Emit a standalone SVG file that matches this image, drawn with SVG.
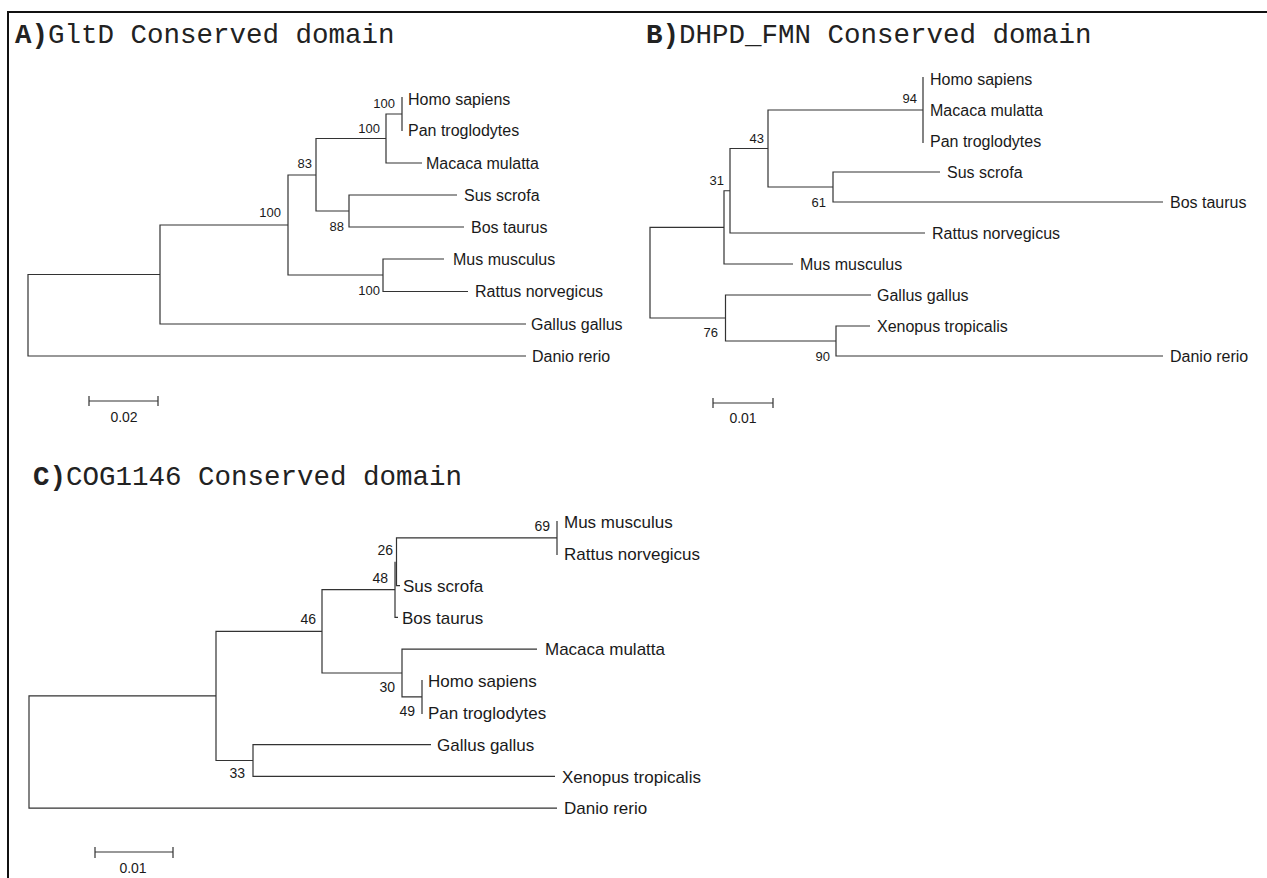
<svg xmlns="http://www.w3.org/2000/svg" width="1267" height="878" viewBox="0 0 1267 878">
<style>
.t{font-family:"Liberation Mono","Courier New",monospace;font-size:27.5px;fill:#222}
.b{font-weight:bold}
.br{fill:none;stroke:#333;stroke-width:1.2}
.fr{fill:none;stroke:#111;stroke-width:2}
.ln{font-family:"Liberation Sans",Arial,sans-serif;font-size:16px;fill:#1a1a1a}
.bs{font-family:"Liberation Sans",Arial,sans-serif;font-size:13px;fill:#1a1a1a;text-anchor:end}
.lc{font-family:"Liberation Sans",Arial,sans-serif;font-size:17px;fill:#1a1a1a}
.bc{font-family:"Liberation Sans",Arial,sans-serif;font-size:14px;fill:#1a1a1a;text-anchor:end}
.sc{font-family:"Liberation Sans",Arial,sans-serif;font-size:14px;fill:#1a1a1a;text-anchor:middle}
</style>
<rect width="1267" height="878" fill="#fff"/>
<path class="fr" d="M8 878 V12 H1267"/>

<g id="titles">
<text class="t" x="15" y="43"><tspan class="b">A)</tspan>GltD Conserved domain</text>
<text class="t" x="646" y="43"><tspan class="b">B)</tspan>DHPD_FMN Conserved domain</text>
<text class="t" x="33" y="485"><tspan class="b">C)</tspan>COG1146 Conserved domain</text>
</g>

<g id="connectors">
<path class="br" d="M402 97 V131 M402 114 H386 V163 H422 M386 138.5 H316 V211 H349 M457 195 H349 V227 H464 M316 175 H288 V275 H383 M444 259 H383 V291.5 H468 M288 225 H160 V324 H526 M160 274.5 H28 V356 H526"/>
<path class="br" d="M89 401 H158 M89 396 V406 M158 396 V406"/>
<path class="br" d="M923 77 V143 M923 110 H768 V187 H833 M940 172 H833 V202 H1163 M768 148.5 H730 V233 H925 M730 190.75 H724 V264 H793 M870 326 H836 V356 H1163 M871 295 H725.5 V341 H836 M724 227.4 H650 V318 H725.5"/>
<path class="br" d="M713 403 H773 M713 398 V408 M773 398 V408"/>
<path class="br" d="M557 521 V555 M557 537.9 H396.5 V585.6 H400 M395 561.75 V617.4 H398 M395 589.6 H322 V673 H402 M422 680 V714 M537 649.2 H402 V696.9 H422 M322 631.3 H216 V760.5 H253 M431 744.6 H253 V776.4 H555 M216 695.9 H29 V808.2 H557"/>
<path class="br" d="M95 852 H173 M95 847 V858 M173 847 V858"/>
</g>

<g id="treeA">
<g id="A-homo"><text class="ln" x="408" y="104.5">Homo sapiens</text></g>
<g id="A-pan"><text class="ln" x="408" y="136">Pan troglodytes</text></g>
<g id="A-macaca"><text class="ln" x="426" y="168.5">Macaca mulatta</text></g>
<g id="A-sus"><text class="ln" x="464" y="200.5">Sus scrofa</text></g>
<g id="A-bos"><text class="ln" x="471" y="232.5">Bos taurus</text></g>
<g id="A-mus"><text class="ln" x="453" y="264.5">Mus musculus</text></g>
<g id="A-rattus"><text class="ln" x="475" y="297">Rattus norvegicus</text></g>
<g id="A-gallus"><text class="ln" x="531" y="329.5">Gallus gallus</text></g>
<g id="A-danio"><text class="ln" x="532" y="361.5">Danio rerio</text></g>
<g id="A-n1"><text class="bs" x="395" y="108">100</text></g>
<g id="A-n2"><text class="bs" x="380" y="133">100</text></g>
<g id="A-n3"><text class="bs" x="312" y="168">83</text></g>
<g id="A-n4"><text class="bs" x="281" y="217">100</text></g>
<g id="A-n5"><text class="bs" x="344" y="231">88</text></g>
<g id="A-n6"><text class="bs" x="380" y="295">100</text></g>
<g id="A-scale"><text class="sc" x="124" y="422">0.02</text></g>
</g>

<g id="treeB">
<g id="B-homo"><text class="ln" x="930" y="84.5">Homo sapiens</text></g>
<g id="B-macaca"><text class="ln" x="930" y="115.5">Macaca mulatta</text></g>
<g id="B-pan"><text class="ln" x="930" y="146.5">Pan troglodytes</text></g>
<g id="B-sus"><text class="ln" x="947" y="177.5">Sus scrofa</text></g>
<g id="B-bos"><text class="ln" x="1170" y="207.5">Bos taurus</text></g>
<g id="B-rattus"><text class="ln" x="932" y="238.5">Rattus norvegicus</text></g>
<g id="B-mus"><text class="ln" x="800" y="269.5">Mus musculus</text></g>
<g id="B-gallus"><text class="ln" x="877" y="300.5">Gallus gallus</text></g>
<g id="B-xenopus"><text class="ln" x="877" y="331.5">Xenopus tropicalis</text></g>
<g id="B-danio"><text class="ln" x="1170" y="361.5">Danio rerio</text></g>
<g id="B-n1"><text class="bs" x="917" y="103">94</text></g>
<g id="B-n2"><text class="bs" x="764" y="143">43</text></g>
<g id="B-n3"><text class="bs" x="724" y="185">31</text></g>
<g id="B-n4"><text class="bs" x="826" y="207">61</text></g>
<g id="B-n5"><text class="bs" x="718" y="337">76</text></g>
<g id="B-n6"><text class="bs" x="830" y="361">90</text></g>
<g id="B-scale"><text class="sc" x="743" y="423">0.01</text></g>
</g>

<g id="treeC">
<g id="C-mus"><text class="lc" x="564" y="528">Mus musculus</text></g>
<g id="C-rattus"><text class="lc" x="564" y="560">Rattus norvegicus</text></g>
<g id="C-sus"><text class="lc" x="403" y="591.5">Sus scrofa</text></g>
<g id="C-bos"><text class="lc" x="402" y="623.5">Bos taurus</text></g>
<g id="C-macaca"><text class="lc" x="545" y="655">Macaca mulatta</text></g>
<g id="C-homo"><text class="lc" x="428" y="687">Homo sapiens</text></g>
<g id="C-pan"><text class="lc" x="428" y="719">Pan troglodytes</text></g>
<g id="C-gallus"><text class="lc" x="437" y="750.5">Gallus gallus</text></g>
<g id="C-xenopus"><text class="lc" x="562" y="782.5">Xenopus tropicalis</text></g>
<g id="C-danio"><text class="lc" x="564" y="814">Danio rerio</text></g>
<g id="C-n1"><text class="bc" x="550" y="531">69</text></g>
<g id="C-n2"><text class="bc" x="393" y="555">26</text></g>
<g id="C-n3"><text class="bc" x="388" y="583">48</text></g>
<g id="C-n4"><text class="bc" x="316" y="624">46</text></g>
<g id="C-n5"><text class="bc" x="395" y="692">30</text></g>
<g id="C-n6"><text class="bc" x="415" y="716">49</text></g>
<g id="C-n7"><text class="bc" x="245" y="778">33</text></g>
<g id="C-scale"><text class="sc" x="133" y="873">0.01</text></g>
</g>
</svg>
